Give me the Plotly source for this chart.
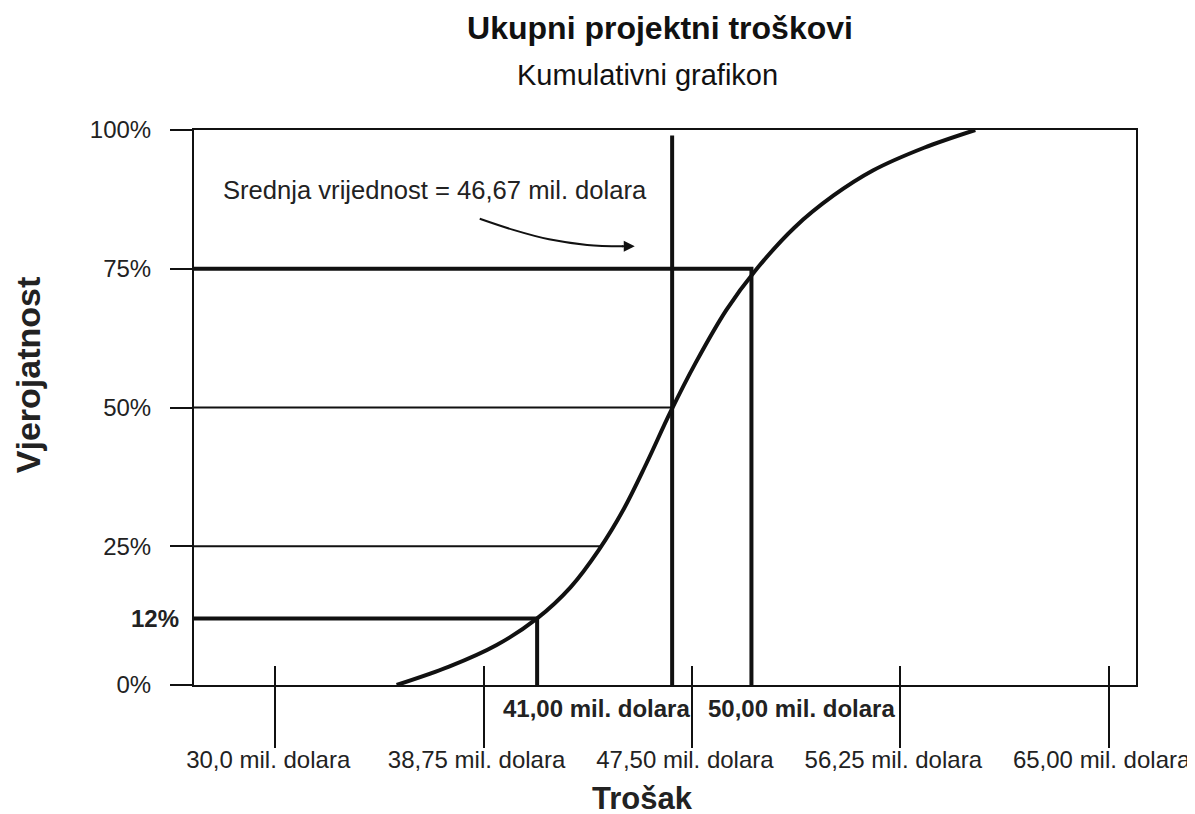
import numpy as np
import plotly.graph_objects as go

# ---- data ----
curve_cost = [35.1, 37.3, 39.3, 41.0, 42.4, 43.6, 44.65, 45.6, 46.6, 47.65, 48.95, 50.15, 51.8, 53.45, 55.1, 57.25, 59.4]
curve_prob = [0, 3.3, 7.2, 12.0, 17.6, 24.4, 31.8, 40.0, 49.2, 58.0, 67.6, 74.6, 82.4, 88.2, 92.7, 96.8, 100]

tick_vals = [30.0, 38.75, 47.5, 56.25, 65.0]
tick_text = ["30,0 mil. dolara", "38,75 mil. dolara", "47,50 mil. dolara",
             "56,25 mil. dolara", "65,00 mil. dolara"]

prob_ticks = [0, 25, 50, 75, 100]
prob_text = ["0%", "25%", "50%", "75%", "100%"]

mean_cost = 46.67
low_cost, low_prob = 41.0, 12
high_cost, high_prob = 50.0, 75
mean_top = 99

arrow_x = [38.59, 40.0, 41.5, 43.1, 44.6]
arrow_y = [84.0, 82.0, 80.3, 79.3, 79.05]
arrow_tip = 45.1

X_RANGE = [26.59, 66.15]
Y_RANGE = [0, 100]

FONT = "Liberation Sans, Arial, sans-serif"
BLACK = "#111111"
TXT = "#222222"

fig = go.Figure()

def line(x, y, w, shape="linear"):
    fig.add_trace(go.Scatter(x=x, y=y, mode="lines", line=dict(color=BLACK, width=w, shape=shape),
                             showlegend=False, hoverinfo="skip"))

xmin = X_RANGE[0]
x25 = float(np.interp(25, curve_prob, curve_cost))

# thin guide lines
line([xmin, mean_cost], [50, 50], 2)
line([xmin, x25], [25, 25], 2)
# thick guide lines
line([xmin, high_cost, high_cost], [high_prob, high_prob, 0], 4)
line([xmin, low_cost, low_cost], [low_prob, low_prob, 0], 4)
line([mean_cost, mean_cost], [0, mean_top], 4)
# cumulative curve
line(curve_cost, curve_prob, 4, "spline")
# curved arrow body
line(arrow_x, arrow_y, 2, "spline")

fig.add_annotation(x=arrow_tip, y=arrow_y[-1], ax=arrow_x[-1] - 0.1, ay=arrow_y[-1], axref="x", ayref="y",
                   xref="x", yref="y", text="", showarrow=True, arrowhead=2, arrowsize=1.1,
                   arrowwidth=2, arrowcolor=BLACK)

fig.add_annotation(x=27.73, y=89.2, xref="x", yref="y", xanchor="left", yanchor="middle",
                   text="Srednja vrijednost = 46,67 mil. dolara", showarrow=False,
                   font=dict(size=25.6, color=TXT, family=FONT))

fig.add_annotation(x=low_cost, y=0, xref="x", yref="y", xanchor="left", yanchor="middle",
                   yshift=-23, xshift=-36, text="<b>41,00 mil. dolara</b>", showarrow=False,
                   font=dict(size=24, color=TXT, family=FONT))
fig.add_annotation(x=high_cost, y=0, xref="x", yref="y", xanchor="left", yanchor="middle",
                   yshift=-23, xshift=-45, text="<b>50,00 mil. dolara</b>", showarrow=False,
                   font=dict(size=24, color=TXT, family=FONT))

# titles
fig.add_annotation(x=0.481, y=1.099, xref="paper", yref="paper", xanchor="center", yanchor="middle",
                   text="Kumulativni grafikon", showarrow=False,
                   font=dict(size=29, color="#111", family=FONT))
fig.add_annotation(x=0.4766, y=-0.205, xref="paper", yref="paper", xanchor="center", yanchor="middle",
                   text="<b>Trošak</b>", showarrow=False,
                   font=dict(size=31, color=TXT, family=FONT))
fig.add_annotation(x=-0.176, y=0.5586, xref="paper", yref="paper", xanchor="center", yanchor="middle",
                   text="<b>Vjerojatnost</b>", textangle=-90, showarrow=False,
                   font=dict(size=34, color=TXT, family=FONT))

fig.update_layout(
    width=1195, height=814,
    margin=dict(l=186, r=67, t=122, b=137),
    paper_bgcolor="white", plot_bgcolor="white",
    title=dict(text="<b>Ukupni projektni troškovi</b>", x=652 / 1195, xanchor="center",
               y=1 - 20 / 814, yanchor="middle", xref="container", yref="container",
               font=dict(size=32, color="#111", family=FONT)),
    xaxis=dict(range=X_RANGE, showgrid=False, zeroline=False, showline=True, mirror=True,
               linecolor=BLACK, linewidth=2, ticks="outside", ticklen=61, tickwidth=2,
               tickcolor=BLACK, tickvals=tick_vals, ticktext=tick_text,
               ticklabelshift=-7, ticklabelstandoff=-9,
               tickfont=dict(size=24, color=TXT, family=FONT)),
    xaxis2=dict(range=X_RANGE, overlaying="x", anchor="y", side="bottom", showgrid=False,
                zeroline=False, showline=False, ticks="inside", ticklen=19, tickwidth=2,
                tickcolor=BLACK, tickvals=tick_vals, showticklabels=False),
    yaxis=dict(range=Y_RANGE, showgrid=False, zeroline=False, showline=True, mirror=True,
               linecolor=BLACK, linewidth=2, ticks="outside", ticklen=22, tickwidth=2,
               tickcolor=BLACK, tickvals=prob_ticks, ticktext=prob_text,
               ticklabelstandoff=14, tickfont=dict(size=24, color=TXT, family=FONT)),
    yaxis2=dict(range=Y_RANGE, overlaying="y", anchor="x", side="left", showgrid=False,
                zeroline=False, showline=False, ticks="", tickvals=[low_prob],
                ticktext=["<b>12%</b>"], ticklabelstandoff=14,
                tickfont=dict(size=24, color=TXT, family=FONT)),
)

# dummy trace to activate the overlay axes
fig.add_trace(go.Scatter(x=[None], y=[None], xaxis="x2", yaxis="y2", showlegend=False,
                         hoverinfo="skip"))

fig.write_html("out.html")
